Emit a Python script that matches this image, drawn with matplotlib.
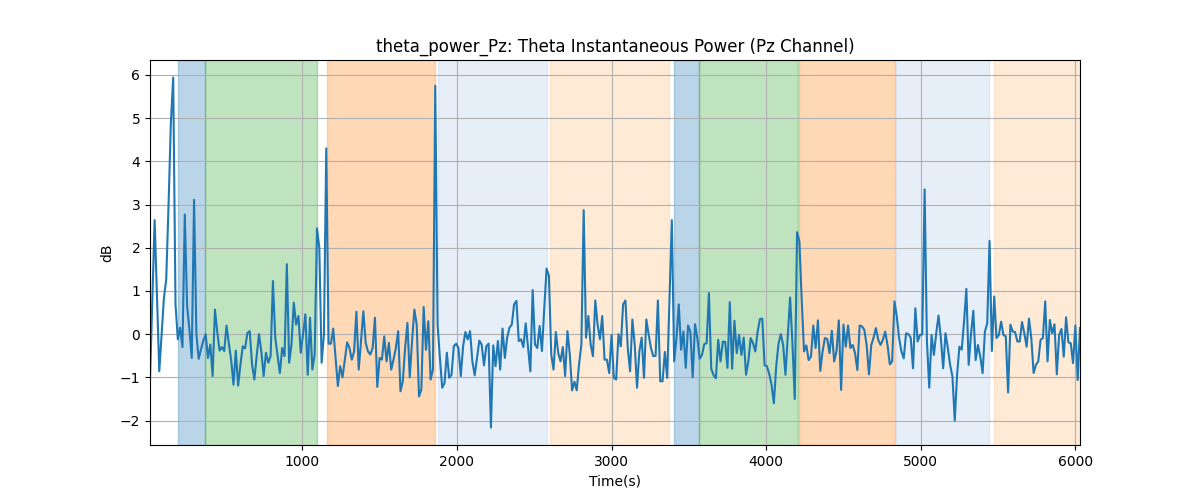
import matplotlib
matplotlib.use("Agg")
import matplotlib.pyplot as plt
import numpy as np

# theta power samples, one every 15 s starting at t = 15 s
times = np.arange(15, 6031, 15)
power_db = [
    -1.05, 0.8, 2.64, 0.9, -0.86, 0.0, 0.84, 1.27, 3.0, 4.9,
    5.94, 0.69, -0.12, 0.15, -0.3, 2.77, 0.65, 0.1, -0.55, 3.11,
    0.0, -0.57, -0.35, -0.15, 0.0, -0.55, -0.24, -0.97, 0.57, 0.05,
    -0.38, -0.3, -0.39, 0.2, -0.22, -0.6, -1.17, -0.38, -1.19, -0.7,
    -0.28, -0.33, 0.03, 0.07, -0.7, -1.05, -0.5, 0.0, -0.4, -0.97,
    -0.43, -0.66, -0.51, 1.23, -0.08, -0.5, -0.9, -0.32, -0.51, 1.62,
    -0.66, -0.24, 0.73, 0.22, 0.42, -0.43, 0.0, 0.46, -0.94, 0.38,
    -0.82, -0.47, 2.45, 2.0, -0.66, 0.0, 4.3, -0.22, -0.22, 0.13,
    -0.55, -1.2, -0.74, -1.0, -0.6, -0.19, -0.32, -0.59, -0.4, 0.52,
    -0.82, -0.15, 0.53, -0.2, -0.4, -0.47, -0.32, 0.38, -1.22, -0.55,
    -0.59, -0.05, -0.63, -0.2, -0.82, -0.59, -0.32, 0.07, -1.32, -1.09,
    -0.32, 0.26, -1.0, -0.16, 0.57, 0.22, -1.44, -1.28, 0.63, -0.36,
    0.3, -1.05, -0.82, 5.75, 0.22, -0.55, -1.24, -1.13, -0.43, -1.01,
    -0.94, -0.28, -0.22, -0.32, -0.97, -0.28, 0.05, -0.12, 0.07, -0.63,
    -0.95, -0.55, -0.15, -0.24, -0.72, -0.28, -0.22, -2.16, -0.26, -0.74,
    -0.16, -0.82, 0.13, -0.55, -0.08, 0.15, 0.22, 0.69, 0.77, -0.16,
    -0.12, -0.3, 0.25, -0.3, -0.86, 1.02, -0.24, -0.32, 0.19, -0.39,
    0.6, 1.52, 1.35, -0.47, -0.82, 0.05, -0.43, -0.63, -0.3, -0.97,
    0.07, -0.46, -1.3, -1.1, -1.3, -0.7, -0.24, 2.87, -0.08, 0.42,
    -0.24, -0.51, 0.78, 0.22, -0.12, 0.42, -0.59, -0.59, -0.9, -0.02,
    -1.01, -1.05, 0.0, -0.28, 0.69, 0.78, -0.32, -0.86, 0.34, -0.24,
    -1.24, -0.4, -0.08, -1.01, 0.34, 0.0, -0.32, -0.51, -0.5, 0.78,
    -1.09, -1.09, -0.41, -1.01, 0.8, 2.64, -0.63, -0.09, 0.69, -0.36,
    0.06, -0.78, 0.2, 0.06, -1.0, 0.23, -0.09, -0.57, -0.48, -0.23,
    -0.21, 0.95, -0.8, -0.95, -1.02, -0.13, -0.63, -0.17, -0.18, -0.78,
    0.74, -0.8, 0.31, -0.44, -0.02, -0.48, -0.08, -0.94, -0.63, -0.09,
    -0.21, -0.4, 0.06, 0.35, 0.36, -0.72, -0.74, -0.92, -1.17, -1.6,
    -0.75, -0.22, 0.0, -0.25, -0.94, -0.05, 0.85, -0.2, -1.5, 2.36,
    2.15, 0.8, -0.4, -0.26, -0.6, -0.52, 0.2, -0.32, 0.32, -0.85,
    -0.4, -0.09, -0.11, -0.44, 0.08, -0.63, -0.4, 0.32, -1.29, 0.22,
    -0.29, 0.2, -0.32, -0.25, -0.44, -0.83, 0.2, 0.18, 0.1, -0.25,
    -0.93, -0.25, -0.08, 0.14, -0.13, -0.25, -0.13, 0.06, -0.25, -0.7,
    -0.63, 0.76, 0.41, -0.09, -0.4, -0.56, 0.02, 0.0, -0.08, -0.79,
    0.6, -0.17, -0.02, 0.0, 3.35, -0.17, -1.24, -0.02, -0.48, 0.02,
    0.43, -0.09, -0.79, 0.02, -0.32, -0.71, -0.98, -2.0, -0.94, -0.29,
    -0.36, 0.29, 1.05, -0.71, 0.0, 0.54, -0.6, -0.25, -0.52, -0.9,
    0.06, 0.25, 2.16, -0.39, 0.87, -0.09, -0.02, 0.29, -0.02, -0.05,
    -1.35, 0.22, 0.06, 0.05, -0.17, -0.17, 0.28, 0.02, -0.29, 0.36,
    -0.09, -0.9, -0.71, -0.63, -0.13, -0.09, 0.76, -0.63, 0.33, 0.02,
    0.23, -0.93, -0.02, 0.12, -0.52, 0.39, -0.19, -0.21, -0.67, 0.2,
    -1.06, 0.14,
]

# shaded task segments: start, end (s) and colour
seg_start = [197, 373, 1160, 1878, 2602, 3403, 3565, 4212, 4838, 5472]
seg_end = [373, 1096, 1856, 2584, 3371, 3565, 4205, 4832, 5442, 6030]
seg_color = ['#1f77b4', '#2ca02c', '#ff7f0e', '#aec7e8', '#ffbb78',
             '#1f77b4', '#2ca02c', '#ff7f0e', '#aec7e8', '#ffbb78']

fig, ax = plt.subplots(figsize=(12, 5), dpi=100)

for s, e, c in zip(seg_start, seg_end, seg_color):
    ax.axvspan(s, e, color=c, alpha=0.3)

ax.plot(times, power_db, color='#1f77b4', linewidth=1.5)

ax.set_xlim(times[0], times[-1])
ax.set_title('theta_power_Pz: Theta Instantaneous Power (Pz Channel)')
ax.set_xlabel('Time(s)')
ax.set_ylabel('dB')
ax.grid(True)

fig.savefig('out.png')
